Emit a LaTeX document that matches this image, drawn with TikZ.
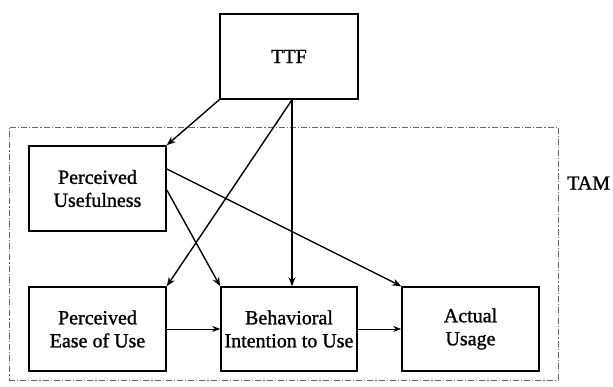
\documentclass[tikz,border=0pt]{standalone}
\usepackage{fontspec}
\setmainfont{Liberation Serif}
\newfontfamily\tnr{Liberation Serif}[RawFeature={embolden=1.2}]
\usetikzlibrary{arrows.meta}
\begin{document}
\begin{tikzpicture}[x=1pt,y=1pt,
  box/.style={draw, line width=1.6pt, minimum width=137pt, minimum height=85pt, align=center, inner sep=0pt,
    font=\tnr\fontsize{20}{23}\selectfont},
  thickarrow/.style={line width=1.4pt, -{Stealth[length=9pt,width=7pt]}},
  thinarrow/.style={line width=0.8pt, -{Stealth[length=8pt,width=6pt]}},
  frame/.style={draw=black!60, line width=0.8pt, dash pattern=on 6pt off 2pt on 1.2pt off 2pt}]
\useasboundingbox (0,0) rectangle (613,387);
\node[frame, minimum width=549pt, minimum height=253pt, inner sep=0pt] (tam) at (283.5,133.5) {};
\node[box, minimum width=138pt] (TTF) at (289,330.5) {TTF};
\node[box] (PU) at (97.5,198.5) {Perceived\\Usefulness};
\node[box, minimum height=84pt] (PEOU) at (97.5,58) {Perceived\\Ease of Use};
\node[box, minimum width=136pt, minimum height=84pt] (BI) at (289,58) {Behavioral\\Intention to Use};
\node[box, minimum height=84pt] (AU) at (470.5,58) {Actual\\Usage};
\node[font=\tnr\fontsize{20}{23}\selectfont, anchor=west, inner sep=0pt] (tamlabel) at (567,204) {TAM};
\draw[thickarrow] (TTF.south west) -- (PU.north east);
\draw[thickarrow] ([xshift=3pt]TTF.south) -- ([xshift=3pt]BI.north);
\draw[thickarrow] ([xshift=3pt]TTF.south) -- (PEOU.north east);
\draw[thickarrow] ([yshift=19.5pt]PU.east) -- (AU.north west);
\draw[thickarrow] ([yshift=-1.5pt]PU.east) -- (BI.north west);
\draw[thinarrow] (PEOU.east) -- (BI.west);
\draw[thinarrow] (BI.east) -- (AU.west);
\end{tikzpicture}
\end{document}
